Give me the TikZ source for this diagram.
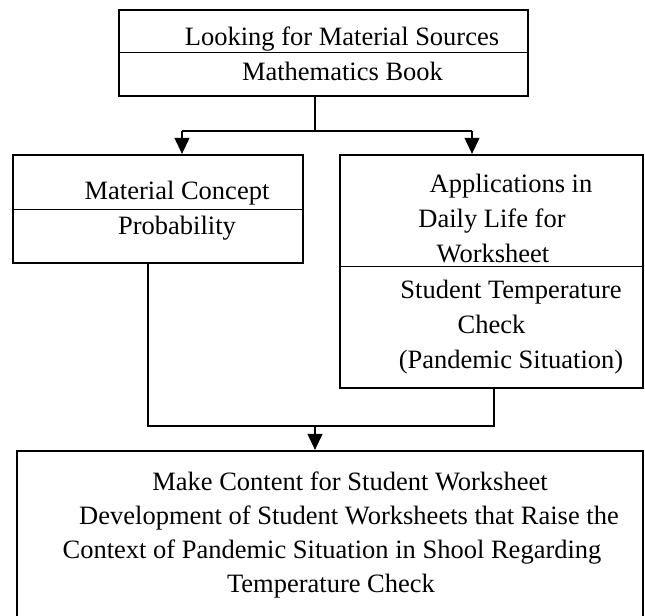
\documentclass[tikz,border=0pt]{standalone}
\usepackage{fontspec}
\setmainfont{Liberation Serif}
\usetikzlibrary{arrows.meta}
\begin{document}
\begin{tikzpicture}[x=1bp,y=-1bp,
  box/.style={draw=black,line width=2.3bp,rectangle,inner sep=0pt},
  divider/.style={draw=black,line width=1bp},
  conn/.style={draw=black,line width=1.1bp},
  arr/.style={conn,-{Triangle[length=16bp,width=15bp]}},
  txt/.style={anchor=base,inner sep=0pt,font=\fontsize{26.5bp}{32bp}\selectfont}]
\useasboundingbox (0,0) rectangle (645,616);
\clip (0,0) rectangle (645,616);
% boxes
\node[box,minimum width=409bp,minimum height=86bp] (top) at (323.5,53) {};
\node[box,minimum width=290bp,minimum height=108bp] (left) at (158,209) {};
\node[box,minimum width=303bp,minimum height=233bp] (right) at (491.5,271.5) {};
\node[box,minimum width=626bp,minimum height=200bp] (bot) at (330,551) {};
% dividers
\coordinate (d1) at (0,53);
\coordinate (d2) at (0,209);
\coordinate (d3) at (0,266);
\draw[divider] (top.west |- d1) -- (top.east |- d1);
\draw[divider] (left.west |- d2) -- (left.east |- d2);
\draw[divider] (right.west |- d3) -- (right.east |- d3);
% texts
\node[txt] (t1) at (342,46) {Looking for Material Sources};
\node[txt] (t2) at (342.5,81) {Mathematics Book};
\node[txt] (l1) at (177,199) {Material Concept};
\node[txt] (l2) at (177,234) {Probability};
\node[txt] (r1) at (511,193) {Applications in};
\node[txt] (r2) at (492,227) {Daily Life for};
\node[txt] (r3) at (493,262) {Worksheet};
\node[txt] (r4) at (511,298) {Student Temperature};
\node[txt] (r5) at (491.5,333) {Check};
\node[txt] (r6) at (511,368) {(Pandemic Situation)};
\node[txt] (b1) at (350,490) {Make Content for Student Worksheet};
\node[txt] (b2) at (349,524) {Development of Student Worksheets that Raise the};
\node[txt] (b3) at (332,558) {Context of Pandemic Situation in Shool Regarding};
\node[txt] (b4) at (331,592) {Temperature Check};
% connectors
\coordinate (s1) at (315,131);
\coordinate (la) at (182,131);
\coordinate (ra) at (472,131);
\draw[conn] (top.south -| s1) -- (s1);
\draw[conn] (la) -- (ra);
\draw[arr] (la) -- (la |- left.north);
\draw[arr] (ra) -- (ra |- right.north);
\coordinate (lb) at (148,426);
\coordinate (rb) at (494,426);
\coordinate (s2) at (315,426);
\draw[conn] (lb |- left.south) -- (lb) -- (rb) -- (rb |- right.south);
\draw[arr] (s2) -- (s2 |- bot.north);
\end{tikzpicture}
\end{document}
